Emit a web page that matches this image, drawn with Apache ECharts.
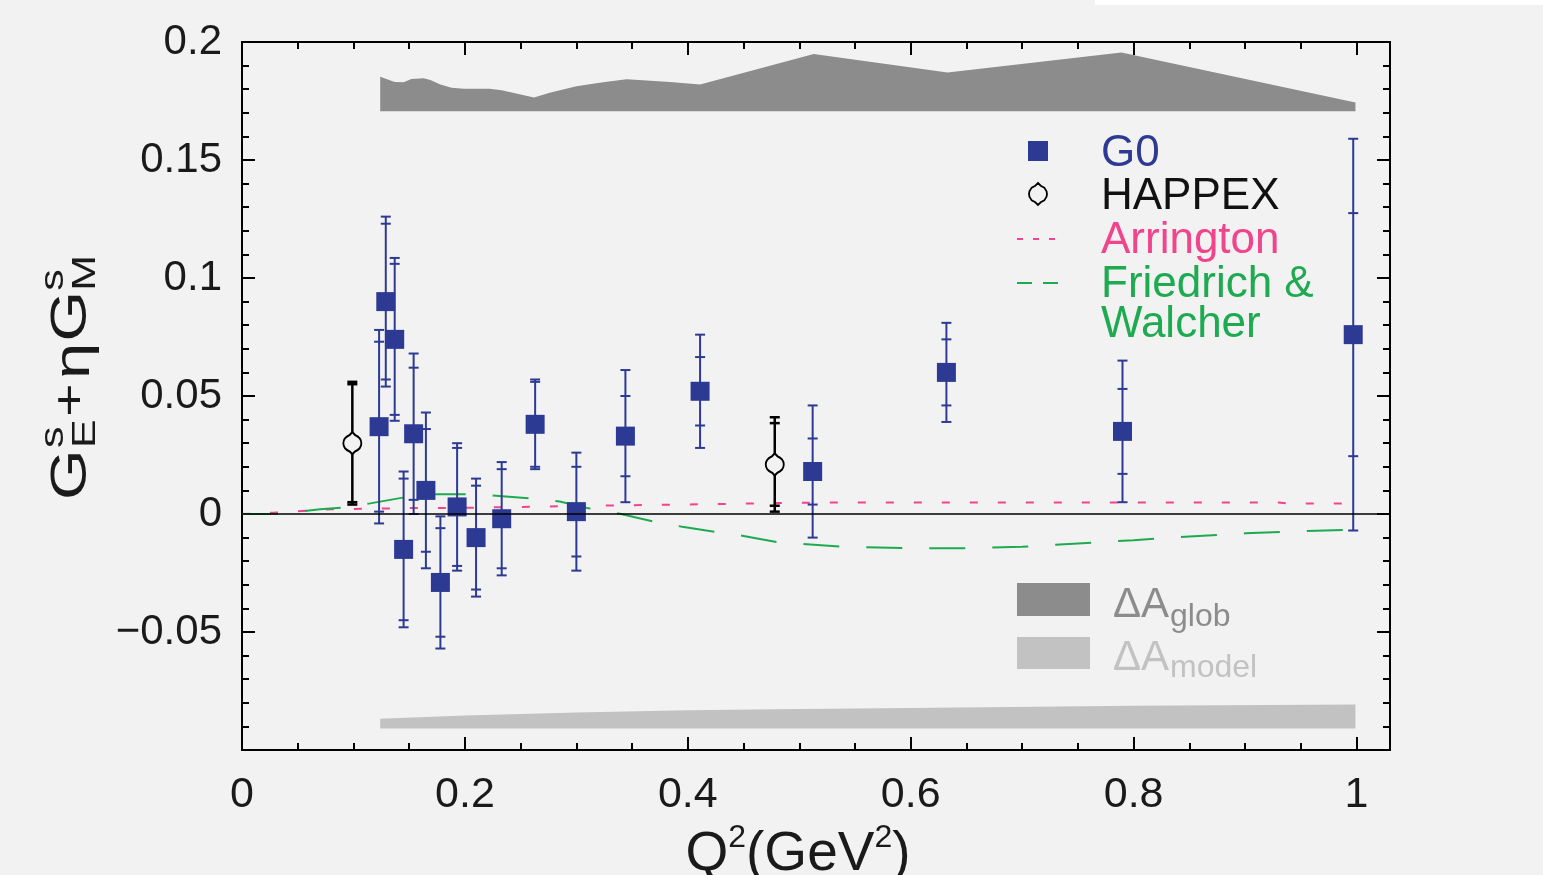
<!DOCTYPE html>
<html><head><meta charset="utf-8">
<script src="https://cdn.jsdelivr.net/npm/echarts@6/dist/echarts.min.js"></script>
<style>html,body{margin:0;padding:0;background:#f2f2f2}#c{width:1543px;height:875px}</style>
</head><body><div id="c"></div>
<script>
// ---- data ----
const g0Q2   = [0.123,0.129,0.137,0.145,0.154,0.165,0.178,0.193,0.210,0.233,0.263,0.300,0.344,0.411,0.512,0.632,0.790,0.997];
const g0Val  = [0.037,0.090,0.074,-0.015,0.034,0.010,-0.029,0.003,-0.010,-0.002,0.038,0.001,0.033,0.052,0.018,0.060,0.035,0.076];
const g0Stat = [0.036,0.033,0.032,0.030,0.028,0.026,0.023,0.025,0.022,0.021,0.018,0.019,0.017,0.0145,0.014,0.014,0.018,0.0515];
const g0Tot  = [0.041,0.036,0.0345,0.033,0.034,0.033,0.028,0.027,0.025,0.024,0.019,0.025,0.028,0.024,0.028,0.021,0.030,0.083];

const hapQ2   = [0.099,0.478];
const hapVal  = [0.030,0.021];
const hapStat = [0.025,0.0175];
const hapTot  = [0.026,0.020];

const arrQ2  = [0,0.03,0.08,0.15,0.2,0.3,0.44,0.5,0.6,0.8,0.93,0.94,0.997];
const arrVal = [0,0.0006,0.002,0.0025,0.0026,0.0034,0.0043,0.0048,0.0049,0.0049,0.0049,0.0044,0.0044];

const fwQ2  = [0,0.03,0.07,0.09,0.115,0.145,0.17,0.21,0.26,0.285,0.31,0.34,0.37,0.395,0.425,0.45,0.48,0.51,0.54,0.6,0.65,0.7,0.75,0.8,0.85,0.9,0.95,0.99];
const fwVal = [0,0,0.002,0.0027,0.0045,0.007,0.0084,0.0084,0.0066,0.0053,0.0025,0,-0.0033,-0.0054,-0.0076,-0.0093,-0.0119,-0.0129,-0.0139,-0.0145,-0.0145,-0.0139,-0.0125,-0.0111,-0.0095,-0.0082,-0.0073,-0.0067];

const globQ2   = [0.124,0.137,0.145,0.152,0.163,0.169,0.178,0.188,0.199,0.222,0.233,0.246,0.262,0.276,0.300,0.324,0.345,0.363,0.384,0.411,0.513,0.633,0.789,0.999];
const globTop  = [0.1853,0.1831,0.1829,0.1843,0.1846,0.1839,0.1820,0.1806,0.1802,0.1802,0.1796,0.1782,0.1765,0.1785,0.1813,0.1829,0.1842,0.1837,0.1831,0.1820,0.1949,0.1871,0.1955,0.1744];
const globBase = 0.1707;

const modelQ2   = [0.124,0.2,0.3,0.4,0.5,0.6,0.8,0.999];
const modelTop  = [-0.0868,-0.0854,-0.0841,-0.0832,-0.0826,-0.0822,-0.0813,-0.0807];
const modelBase = -0.0909;

const xTickVals   = [0,0.2,0.4,0.6,0.8,1];
const xTickLabels = ['0','0.2','0.4','0.6','0.8','1'];
const yTickVals   = [0.2,0.15,0.1,0.05,0,-0.05];
const yTickLabels = ['0.2','0.15','0.1','0.05','0','\u22120.05'];

// ---- style ----
const BLUE='#2d3a94', PINK='#f0448c', GREEN='#1eaa50', BG='#f2f2f2';
const GLOB='#8c8c8c', MODEL='#c2c2c2', INK='#1a1a1a';
const FONT='"Liberation Sans", Arial, sans-serif';
const HAP_SHAPE = [[10,0],[13,3],[17,5],[19.5,9],[20,12],[19.5,15],[17,19],[13,21],[10,24],[7,21],[3,19],[0.5,15],[0,12],[0.5,9],[3,5],[7,3]];

function lookup(vals, labels, v){
  for (let i=0;i<vals.length;i++) if (Math.abs(vals[i]-v)<1e-6) return labels[i];
  return '';
}

function errRender(color, capW, lw){
  return function(params, api){
    const x=api.value(0), y=api.value(1), s=api.value(2), t=api.value(3);
    const tl=api.coord([x,y-t]), th=api.coord([x,y+t]);
    const sl=api.coord([x,y-s]), sh=api.coord([x,y+s]);
    const cx=tl[0];
    const ch=[{type:'line',shape:{x1:cx,y1:tl[1],x2:cx,y2:th[1]},style:{stroke:color,lineWidth:lw}}];
    [tl[1],th[1],sl[1],sh[1]].forEach(yy=>ch.push({type:'line',shape:{x1:cx-capW/2,y1:yy,x2:cx+capW/2,y2:yy},style:{stroke:color,lineWidth:lw}}));
    return {type:'group',children:ch};
  };
}
function bandRender(xs, tops, base, color){
  return function(params, api){
    const pts = xs.map((q,i)=>api.coord([q,tops[i]]));
    for (let i=xs.length-1;i>=0;i--) pts.push(api.coord([xs[i],base]));
    return {type:'polygon',shape:{points:pts},style:{fill:color}};
  };
}

const axisCommon = {type:'value', axisLine:{show:false, onZero:false}, splitLine:{show:false}};
const xBase = Object.assign({}, axisCommon, {min:0, max:1.03});
const yBase = Object.assign({}, axisCommon, {min:-0.1, max:0.2, interval:0.05});
const TICK = {color:'#000', width:2};
function xTicks(pos, interval, len){
  return Object.assign({}, xBase, {position:pos, interval:interval,
    axisTick:{inside:true,length:len,lineStyle:TICK}, axisLabel:{show:false}});
}

const chart = echarts.init(document.getElementById('c'), null, {renderer:'canvas'});
chart.setOption({
  backgroundColor: BG,
  animation:false,
  grid:{left:242, right:153, top:42, bottom:125, show:true, borderColor:'#000', borderWidth:2, backgroundColor:'transparent',
        containLabel:false, outerBoundsMode:'none'},
  xAxis:[
    Object.assign({}, xBase, {position:'bottom', interval:0.2,
      axisTick:{show:false},
      axisLabel:{margin:24, fontSize:43, fontFamily:FONT, color:INK, formatter:v=>lookup(xTickVals,xTickLabels,v)},
      name:'{a|Q}{s|2}{a|(GeV}{s|2}{a|)}', nameLocation:'middle', nameGap:54,
      nameTextStyle:{padding:[0,36,0,0], rich:{a:{fontSize:55,fontFamily:FONT,color:INK,lineHeight:60,verticalAlign:'bottom'},
                           s:{fontSize:32,fontFamily:FONT,color:INK,lineHeight:32,verticalAlign:'top'}}}}),
    xTicks('bottom', 0.2, 13),
    xTicks('bottom', 0.05, 7),
    xTicks('top', 0.2, 13),
    xTicks('top', 0.05, 7)
  ],
  yAxis:[
    Object.assign({}, yBase, {position:'left', axisTick:{show:false},
      axisLabel:{margin:20, fontSize:42, fontFamily:FONT, color:INK, formatter:v=>lookup(yTickVals,yTickLabels,v)}}),
    // left small ticks every 0.01
    Object.assign({}, yBase, {position:'left', axisTick:{show:false,inside:true},
      minorTick:{show:true,splitNumber:5,length:7,lineStyle:TICK}, axisLabel:{show:false}}),
    // left long ticks every 0.05 (drawn as minor ticks of a 0.3 interval)
    Object.assign({}, yBase, {position:'left', interval:0.3, axisTick:{show:false,inside:true},
      minorTick:{show:true,splitNumber:6,length:13,lineStyle:TICK}, axisLabel:{show:false}}),
    // right ticks
    Object.assign({}, yBase, {position:'right', axisTick:{inside:true,length:13,lineStyle:TICK},
      minorTick:{show:true,splitNumber:5,length:7,lineStyle:TICK}, axisLabel:{show:false}})
  ],
  series:[
    {type:'custom', name:'ΔA_glob', renderItem:bandRender(globQ2,globTop,globBase,GLOB), data:[[globQ2[0],globBase]], z:1, silent:true},
    {type:'custom', name:'ΔA_model', renderItem:bandRender(modelQ2,modelTop,modelBase,MODEL), data:[[modelQ2[0],modelBase]], z:1, silent:true},
    {type:'line', name:'Arrington', data:arrQ2.map((q,i)=>[q,arrVal[i]]), showSymbol:false, symbol:'none', z:2,
      lineStyle:{color:PINK,width:2,type:[8,20]},
      markLine:{silent:true,symbol:'none',label:{show:false},lineStyle:{color:'#000',width:1.5,type:'solid'},data:[{yAxis:0}]}},
    {type:'line', name:'Friedrich & Walcher', data:fwQ2.map((q,i)=>[q,fwVal[i]]), showSymbol:false, symbol:'none', z:2,
      lineStyle:{color:GREEN,width:2,type:[36,27]}},
    {type:'custom', name:'G0 errors', renderItem:errRender(BLUE,10,2), data:g0Q2.map((q,i)=>[q,g0Val[i],g0Stat[i],g0Tot[i]]), encode:{x:0,y:1}, z:3},
    {type:'custom', name:'HAPPEX errors', renderItem:errRender('#000',10,2.5), data:hapQ2.map((q,i)=>[q,hapVal[i],hapStat[i],hapTot[i]]), encode:{x:0,y:1}, z:3},
    {type:'scatter', name:'G0', data:g0Q2.map((q,i)=>[q,g0Val[i]]), symbol:'rect', symbolSize:19, itemStyle:{color:BLUE,opacity:1}, z:4},
    {type:'scatter', name:'HAPPEX', data:hapQ2.map((q,i)=>[q,hapVal[i]]),
      symbol:'path://M10,0 L13,3 Q20,6 20,12 Q20,18 13,21 L10,24 L7,21 Q0,18 0,12 Q0,6 7,3 Z',
      symbolSize:[18,22], itemStyle:{color:BG,borderColor:'#000',borderWidth:2,opacity:1}, z:4}
  ],
  graphic:[
    {type:'rect', shape:{x:1095,y:0,width:448,height:5}, style:{fill:'#ffffff'}},
    // legend
    {type:'rect', shape:{x:1028,y:141,width:20,height:20}, style:{fill:BLUE}},
    {type:'text', x:1101, y:154, style:{text:'G0', fontSize:44, fontFamily:FONT, fill:BLUE, verticalAlign:'middle'}},
    {type:'polygon', x:1029, y:183, scaleX:0.9, scaleY:22/24, shape:{points:HAP_SHAPE}, style:{fill:BG, stroke:'#000', lineWidth:2}},
    {type:'text', x:1101, y:197, style:{text:'HAPPEX', fontSize:44, fontFamily:FONT, fill:'#111', verticalAlign:'middle'}},
    {type:'line', shape:{x1:1017,y1:239,x2:1060,y2:239}, style:{stroke:PINK, lineWidth:2, lineDash:[6,10]}},
    {type:'text', x:1101, y:241, style:{text:'Arrington', fontSize:44, fontFamily:FONT, fill:PINK, verticalAlign:'middle'}},
    {type:'line', shape:{x1:1017,y1:283,x2:1058,y2:283}, style:{stroke:GREEN, lineWidth:2, lineDash:[15,11]}},
    {type:'text', x:1101, y:285, style:{text:'Friedrich &', fontSize:44, fontFamily:FONT, fill:GREEN, verticalAlign:'middle'}},
    {type:'text', x:1101, y:325, style:{text:'Walcher', fontSize:44, fontFamily:FONT, fill:GREEN, verticalAlign:'middle'}},
    {type:'rect', shape:{x:1017,y:583,width:73,height:33}, style:{fill:GLOB}},
    {type:'text', x:1113, y:605, style:{text:'ΔA', fontSize:42, fontFamily:FONT, fill:GLOB, verticalAlign:'middle'}},
    {type:'text', x:1170, y:617, style:{text:'glob', fontSize:32, fontFamily:FONT, fill:GLOB, verticalAlign:'middle'}},
    {type:'rect', shape:{x:1017,y:637,width:73,height:32}, style:{fill:MODEL}},
    {type:'text', x:1113, y:658, style:{text:'ΔA', fontSize:42, fontFamily:FONT, fill:MODEL, verticalAlign:'middle'}},
    {type:'text', x:1170, y:668, style:{text:'model', fontSize:32, fontFamily:FONT, fill:MODEL, verticalAlign:'middle'}},
    // y-axis title
    {type:'group', x:72, y:500, rotation:Math.PI/2, scaleX:1.3, children:[
      {type:'text', x:0,   y:0,   style:{text:'G', fontSize:50, fontFamily:FONT, fill:INK, verticalAlign:'middle'}},
      {type:'text', x:40,  y:-18, style:{text:'s', fontSize:33, fontFamily:FONT, fill:INK, verticalAlign:'middle'}},
      {type:'text', x:40,  y:14,  style:{text:'E', fontSize:33, fontFamily:FONT, fill:INK, verticalAlign:'middle'}},
      {type:'text', x:64,  y:0,   style:{text:'+', fontSize:44, fontFamily:FONT, fill:INK, verticalAlign:'middle'}},
      {type:'text', x:93,  y:3,   style:{text:'η', fontSize:50, fontFamily:FONT, fill:INK, verticalAlign:'middle'}},
      {type:'text', x:122, y:0,   style:{text:'G', fontSize:50, fontFamily:FONT, fill:INK, verticalAlign:'middle'}},
      {type:'text', x:161, y:-18, style:{text:'s', fontSize:33, fontFamily:FONT, fill:INK, verticalAlign:'middle'}},
      {type:'text', x:161, y:14,  style:{text:'M', fontSize:33, fontFamily:FONT, fill:INK, verticalAlign:'middle'}}
    ]}
  ]
});
</script></body></html>
